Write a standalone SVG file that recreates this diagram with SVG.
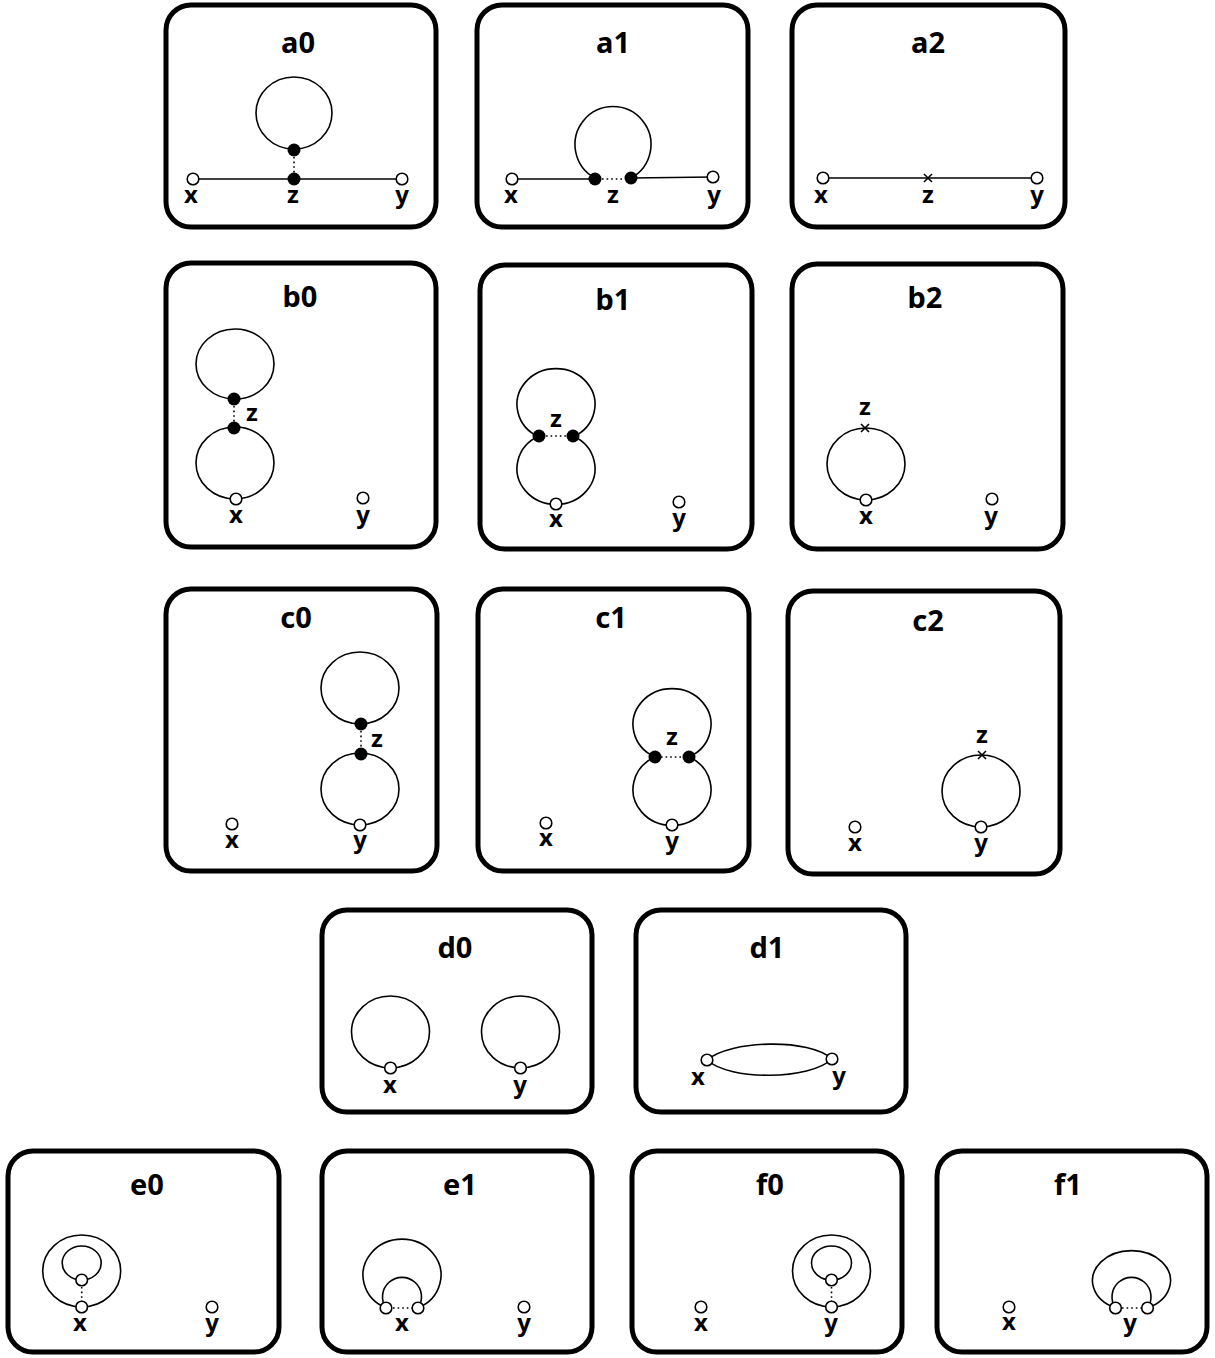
<svg xmlns="http://www.w3.org/2000/svg" width="1215" height="1358" viewBox="0 0 1215 1358">
<style>
.box{fill:#fff;stroke:#000;stroke-width:5}
.e{fill:none;stroke:#000;stroke-width:1.6}
.dt{fill:none;stroke:#000;stroke-width:1.6;stroke-dasharray:1.6 3}
.op{fill:#fff;stroke:#000;stroke-width:1.6}
.fd{fill:#000}
.xm{stroke:#000;stroke-width:1.6;fill:none}
.t{font-family:"Noto Sans","Open Sans","DejaVu Sans",sans-serif;font-weight:700;font-size:29px;text-anchor:middle}
.l{font-family:"Noto Sans","Open Sans","DejaVu Sans",sans-serif;font-weight:700;font-size:24px;text-anchor:middle}
</style>
<defs>
<circle id="o" r="5.8" class="op"/>
<circle id="f" r="6.5" class="fd"/>
<path id="xmk" d="M-4,-4L4,4M-4,4L4,-4" class="xm"/>
</defs>

<g id="a0">
<rect class="box" x="166" y="5" width="270" height="222" rx="25"/>
<text class="t" x="298" y="53">a0</text>
<g class="connectors">
<ellipse class="e" cx="294" cy="113" rx="38" ry="36"/>
<line class="e" x1="193" y1="179" x2="402" y2="179"/>
<line class="dt" x1="294" y1="157" x2="294" y2="173"/>
</g>
<g id="a0-nodes">
<use href="#f" x="294" y="150"/><use href="#f" x="294" y="179"/>
<use href="#o" x="193" y="179"/><use href="#o" x="402" y="179"/>
<text class="l" x="191" y="203">x</text><text class="l" x="293" y="203">z</text><text class="l" x="402" y="203">y</text>
</g>
</g>

<g id="a1">
<rect class="box" x="477" y="5" width="271" height="222" rx="25"/>
<text class="t" x="613" y="53">a1</text>
<g class="connectors">
<line class="e" x1="512" y1="179" x2="595" y2="179"/>
<path class="e" d="M595,178 A38,38 0 1 1 631,178"/>
<line class="e" x1="631" y1="178" x2="713" y2="177"/>
<line class="dt" x1="602" y1="179" x2="625" y2="179"/>
</g>
<g id="a1-nodes">
<use href="#f" x="595" y="179"/><use href="#f" x="631" y="178"/>
<use href="#o" x="512" y="179"/><use href="#o" x="713" y="177"/>
<text class="l" x="511" y="203">x</text><text class="l" x="613" y="203">z</text><text class="l" x="714" y="203">y</text>
</g>
</g>

<g id="a2">
<rect class="box" x="792" y="5" width="273" height="222" rx="25"/>
<text class="t" x="928" y="53">a2</text>
<g class="connectors">
<line class="e" x1="823" y1="178" x2="1037" y2="178"/>
</g>
<g id="a2-nodes">
<use href="#xmk" x="928" y="178"/>
<use href="#o" x="823" y="178"/><use href="#o" x="1037" y="178"/>
<text class="l" x="821" y="203">x</text><text class="l" x="928" y="203">z</text><text class="l" x="1037" y="203">y</text>
</g>
</g>

<g id="b0">
<rect class="box" x="166" y="263" width="270" height="284" rx="25"/>
<text class="t" x="300" y="307">b0</text>
<g class="connectors">
<ellipse class="e" cx="235" cy="364" rx="39" ry="35"/>
<ellipse class="e" cx="235" cy="463" rx="39" ry="36"/>
<line class="dt" x1="234" y1="406" x2="234" y2="422"/>
</g>
<g id="b0-nodes">
<use href="#f" x="234" y="399"/><use href="#f" x="234" y="428"/>
<use href="#o" x="236" y="499"/><use href="#o" x="363" y="498"/>
<text class="l" x="252" y="421">z</text>
<text class="l" x="236" y="523">x</text><text class="l" x="363" y="523">y</text>
</g>
</g>

<g id="b1">
<rect class="box" x="480" y="265" width="272" height="284" rx="25"/>
<text class="t" x="613" y="310">b1</text>
<g class="connectors">
<path class="e" d="M539,437 A39,36 0 1 1 573,437"/>
<path class="e" d="M539,436 A39,36 0 1 0 573,436"/>
<line class="dt" x1="546" y1="436" x2="567" y2="436"/>
</g>
<g id="b1-nodes">
<use href="#f" x="539" y="436"/><use href="#f" x="573" y="436"/>
<use href="#o" x="556" y="504"/><use href="#o" x="679" y="502"/>
<text class="l" x="556" y="427">z</text>
<text class="l" x="556" y="527">x</text><text class="l" x="679" y="526">y</text>
</g>
</g>

<g id="b2">
<rect class="box" x="792" y="264" width="271" height="285" rx="25"/>
<text class="t" x="925" y="308">b2</text>
<g class="connectors">
<ellipse class="e" cx="866" cy="464" rx="39" ry="36"/>
</g>
<g id="b2-nodes">
<use href="#xmk" x="865" y="428"/>
<use href="#o" x="866" y="500"/><use href="#o" x="992" y="499"/>
<text class="l" x="865" y="415">z</text>
<text class="l" x="866" y="524">x</text><text class="l" x="991" y="524">y</text>
</g>
</g>

<g id="c0">
<rect class="box" x="166" y="589" width="271" height="282" rx="25"/>
<text class="t" x="296" y="628">c0</text>
<g class="connectors">
<ellipse class="e" cx="360" cy="688" rx="39" ry="36"/>
<ellipse class="e" cx="360" cy="789" rx="39" ry="36"/>
<line class="dt" x1="361" y1="731" x2="361" y2="748"/>
</g>
<g id="c0-nodes">
<use href="#f" x="361" y="724"/><use href="#f" x="361" y="754"/>
<use href="#o" x="360" y="825"/><use href="#o" x="232" y="824"/>
<text class="l" x="377" y="747">z</text>
<text class="l" x="232" y="848">x</text><text class="l" x="360" y="848">y</text>
</g>
</g>

<g id="c1">
<rect class="box" x="478" y="589" width="271" height="282" rx="25"/>
<text class="t" x="611" y="628">c1</text>
<g class="connectors">
<path class="e" d="M655,757 A39,36 0 1 1 689,757"/>
<path class="e" d="M655,757 A39,36 0 1 0 689,757"/>
<line class="dt" x1="661" y1="757" x2="683" y2="757"/>
</g>
<g id="c1-nodes">
<use href="#f" x="655" y="757"/><use href="#f" x="689" y="757"/>
<use href="#o" x="672" y="825"/><use href="#o" x="546" y="823"/>
<text class="l" x="672" y="745">z</text>
<text class="l" x="546" y="846">x</text><text class="l" x="672" y="849">y</text>
</g>
</g>

<g id="c2">
<rect class="box" x="788" y="591" width="272" height="283" rx="25"/>
<text class="t" x="928" y="631">c2</text>
<g class="connectors">
<ellipse class="e" cx="981" cy="791" rx="39" ry="36"/>
</g>
<g id="c2-nodes">
<use href="#xmk" x="982" y="755"/>
<use href="#o" x="981" y="827"/><use href="#o" x="855" y="827"/>
<text class="l" x="982" y="743">z</text>
<text class="l" x="855" y="851">x</text><text class="l" x="981" y="851">y</text>
</g>
</g>

<g id="d0">
<rect class="box" x="322" y="910" width="270" height="202" rx="25"/>
<text class="t" x="455" y="958">d0</text>
<g class="connectors">
<ellipse class="e" cx="390.5" cy="1032" rx="39" ry="36"/>
<ellipse class="e" cx="520.5" cy="1032" rx="39" ry="36"/>
</g>
<g id="d0-nodes">
<use href="#o" x="390.5" y="1068"/><use href="#o" x="520.5" y="1068"/>
<text class="l" x="390" y="1093">x</text><text class="l" x="520" y="1093">y</text>
</g>
</g>

<g id="d1">
<rect class="box" x="636" y="910" width="270" height="202" rx="25"/>
<text class="t" x="767" y="958">d1</text>
<g class="connectors">
<path class="e" d="M707,1060 C730,1040 810,1038 832,1059"/>
<path class="e" d="M707,1060 C730,1081 810,1080 832,1059"/>
</g>
<g id="d1-nodes">
<use href="#o" x="707" y="1060"/><use href="#o" x="832" y="1059"/>
<text class="l" x="698" y="1085">x</text><text class="l" x="839" y="1084">y</text>
</g>
</g>

<g id="e0">
<rect class="box" x="8" y="1151" width="271" height="201" rx="25"/>
<text class="t" x="147" y="1195">e0</text>
<g class="connectors">
<ellipse class="e" cx="81.7" cy="1271" rx="39" ry="36"/>
<ellipse class="e" cx="81.7" cy="1263" rx="19.5" ry="17"/>
<line class="dt" x1="81.7" y1="1287" x2="81.7" y2="1301"/>
</g>
<g id="e0-nodes">
<use href="#o" x="81.7" y="1280"/><use href="#o" x="81.7" y="1307"/><use href="#o" x="212" y="1307"/>
<text class="l" x="80" y="1331">x</text><text class="l" x="212" y="1331">y</text>
</g>
</g>

<g id="e1">
<rect class="box" x="322" y="1151" width="270" height="201" rx="25"/>
<text class="t" x="460" y="1195">e1</text>
<g class="connectors">
<path class="e" d="M386,1308 A39,36 0 1 1 418,1308"/>
<path class="e" d="M386,1308 A19.5,19.5 0 1 1 418,1308"/>
<line class="dt" x1="393" y1="1308" x2="412" y2="1308"/>
</g>
<g id="e1-nodes">
<use href="#o" x="386" y="1308"/><use href="#o" x="418" y="1308"/><use href="#o" x="524" y="1307"/>
<text class="l" x="402" y="1331">x</text><text class="l" x="524" y="1331">y</text>
</g>
</g>

<g id="f0">
<rect class="box" x="632" y="1151" width="270" height="201" rx="25"/>
<text class="t" x="770" y="1195">f0</text>
<g class="connectors">
<ellipse class="e" cx="831.5" cy="1271" rx="39" ry="36"/>
<ellipse class="e" cx="831.5" cy="1263" rx="20" ry="17"/>
<line class="dt" x1="831.5" y1="1287" x2="831.5" y2="1301"/>
</g>
<g id="f0-nodes">
<use href="#o" x="831.5" y="1280"/><use href="#o" x="831.5" y="1307"/><use href="#o" x="701" y="1307"/>
<text class="l" x="701" y="1331">x</text><text class="l" x="831" y="1331">y</text>
</g>
</g>

<g id="f1">
<rect class="box" x="937" y="1151" width="270" height="201" rx="25"/>
<text class="t" x="1068" y="1195">f1</text>
<g class="connectors">
<path class="e" d="M1115.5,1308 A39,30 0 1 1 1147.5,1308"/>
<path class="e" d="M1115.5,1308 A19.5,19.5 0 1 1 1147.5,1308"/>
<line class="dt" x1="1122" y1="1308" x2="1141" y2="1308"/>
</g>
<g id="f1-nodes">
<use href="#o" x="1115.5" y="1308"/><use href="#o" x="1147.5" y="1308"/><use href="#o" x="1009" y="1307"/>
<text class="l" x="1009" y="1330">x</text><text class="l" x="1130" y="1331">y</text>
</g>
</g>
</svg>
